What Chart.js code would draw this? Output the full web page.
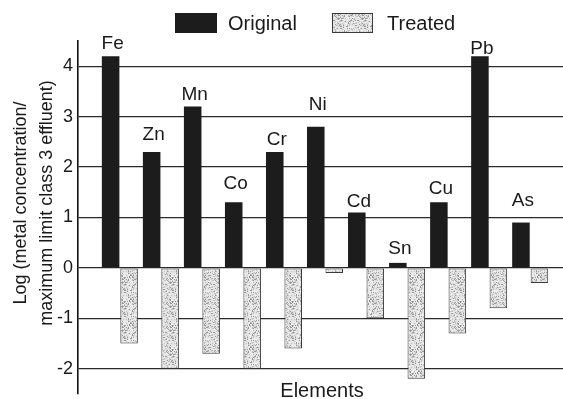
<!DOCTYPE html>
<html>
<head>
<meta charset="utf-8">
<script src="https://cdn.jsdelivr.net/npm/chart.js@4.4.0/dist/chart.umd.min.js"></script>
<style>
  html, body { margin: 0; padding: 0; background: #fff; }
  #wrap { width: 563px; height: 399px; position: relative; }
  canvas { display: block; }
</style>
</head>
<body>
<div id="wrap"><canvas id="chart" width="563" height="399"></canvas></div>
<script>
// Log(metal concentration / class 3 effluent limit) per element
const elements = ['Fe', 'Zn', 'Mn', 'Co', 'Cr', 'Ni', 'Cd', 'Sn', 'Cu', 'Pb', 'As'];
const originalValues = [4.2, 2.3, 3.2, 1.3, 2.3, 2.8, 1.1, 0.1, 1.3, 4.2, 0.9];
const treatedValues = [-1.5, -2.0, -1.7, -2.0, -1.6, -0.1, -1.0, -2.2, -1.3, -0.8, -0.3];
const yTickValues = [-2, -1, 0, 1, 2, 3, 4];

// vertical gap (px) between each element name and the top of its bar
const labelLift = [7, 12, 7, 13, 7, 17, 5, 9, 8, 2, 17];

const FONT = '"Liberation Sans", Arial, Helvetica, sans-serif';

// stippled grey fill for the treated bars
function makeStipple() {
  const c = document.createElement('canvas');
  c.width = 24; c.height = 24;
  const g = c.getContext('2d');
  g.fillStyle = '#e4e4e4';
  g.fillRect(0, 0, 24, 24);
  let s = 7;
  for (let y = 0; y < 24; y++) {
    for (let x = 0; x < 24; x++) {
      s = (s * 1103515245 + 12345) & 0x7fffffff;
      const r = (s >> 8) % 100;
      if (r < 12) { g.fillStyle = '#9a9a9a'; g.fillRect(x, y, 1, 1); }
      else if (r < 30) { g.fillStyle = '#c2c2c2'; g.fillRect(x, y, 1, 1); }
      else if (r < 42) { g.fillStyle = '#f4f4f4'; g.fillRect(x, y, 1, 1); }
    }
  }
  return g.createPattern(c, 'repeat');
}

const ctx = document.getElementById('chart').getContext('2d');
const stipple = makeStipple();

// element names above the black bars
const barLabels = {
  id: 'barLabels',
  afterDatasetsDraw(chart) {
    const g = chart.ctx;
    const meta = chart.getDatasetMeta(0);
    g.save();
    g.font = '19px ' + FONT;
    g.fillStyle = '#1a1a1a';
    g.textAlign = 'center';
    g.textBaseline = 'alphabetic';
    meta.data.forEach((bar, i) => {
      g.fillText(elements[i], bar.x + 2, bar.y - labelLift[i]);
    });
    g.restore();
  }
};

// legend row and axis titles
const decorations = {
  id: 'decorations',
  afterDraw(chart) {
    const g = chart.ctx;
    const ds = chart.data.datasets;
    g.save();
    // legend
    const items = [{ box: 175, w: 42, text: 228 }, { box: 332, w: 41, text: 387 }];
    g.font = '20px ' + FONT;
    g.textBaseline = 'middle';
    g.textAlign = 'left';
    ds.forEach((d, i) => {
      const it = items[i];
      g.fillStyle = d.backgroundColor;
      g.fillRect(it.box, 13, it.w, 20);
      if (d.borderWidth) {
        g.strokeStyle = d.borderColor;
        g.lineWidth = 1;
        g.strokeRect(it.box + 0.5, 13.5, it.w - 1, 19);
      }
      g.fillStyle = '#1a1a1a';
      g.fillText(d.label, it.text, 24);
    });
    // x title
    g.font = '20px ' + FONT;
    g.textAlign = 'center';
    g.textBaseline = 'alphabetic';
    g.fillText('Elements', 322, 397);
    // y title (two lines, rotated)
    g.translate(0, 203);
    g.rotate(-Math.PI / 2);
    g.font = '18px ' + FONT;
    g.textBaseline = 'middle';
    g.fillText('Log (metal concentration/', 0, 21);
    g.fillText('maximum limit class 3 effluent)', 0, 47);
    g.restore();
  }
};

new Chart(ctx, {
  type: 'bar',
  data: {
    datasets: [
      {
        label: 'Original',
        data: originalValues.map((v, i) => ({ x: i, y: v })),
        backgroundColor: '#1c1c1c',
        borderWidth: 0,
        categoryPercentage: 0.9,
        barPercentage: 0.95
      },
      {
        label: 'Treated',
        data: treatedValues.map((v, i) => ({ x: i, y: v })),
        backgroundColor: stipple,
        borderColor: '#3a3a3a',
        borderWidth: 1,
        borderSkipped: false,
        categoryPercentage: 0.9,
        barPercentage: 0.95
      }
    ]
  },
  options: {
    responsive: false,
    animation: false,
    devicePixelRatio: 1,
    layout: { padding: { top: 41, right: 0, bottom: 5, left: 0 } },
    plugins: { legend: { display: false }, tooltip: { enabled: false } },
    scales: {
      x: {
        type: 'linear',
        display: false,
        min: -1.02,
        max: 10.8,
        offset: false
      },
      y: {
        min: -2.5,
        max: 4.5,
        afterFit(scale) {
          scale.width = 78;
          scale.paddingTop = 0;
          scale.paddingBottom = 0;
        },
        afterBuildTicks(scale) { scale.ticks = yTickValues.map(v => ({ value: v })); },
        ticks: {
          font: { family: FONT, size: 18 },
          color: '#1a1a1a',
          padding: 5,
          callback: v => String(v)
        },
        grid: { color: '#2a2a2a', lineWidth: 1.3, drawTicks: false },
        border: { display: true, color: '#111', width: 1.6 }
      }
    }
  },
  plugins: [barLabels, decorations]
});
</script>
</body>
</html>
